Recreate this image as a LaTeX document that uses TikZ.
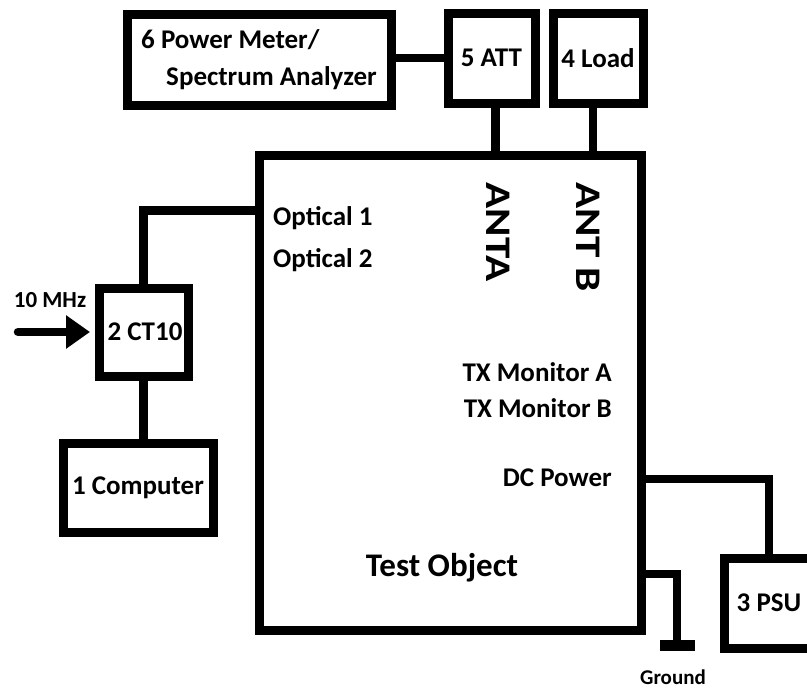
\documentclass[tikz,border=0pt]{standalone}
\usepackage{fontspec}
\setmainfont{Carlito}
\usetikzlibrary{arrows.meta}
\begin{document}
\begin{tikzpicture}[x=1pt,y=-1pt,
  box/.style={draw=black,line width=9pt,rectangle,inner sep=0pt,fill=white,font=\bfseries\fontsize{27}{36}\selectfont},
  lbl/.style={inner sep=0pt,font=\bfseries\fontsize{27}{36}\selectfont},
  wire/.style={draw=black,line width=8.5pt},
]
\useasboundingbox (0,0) rectangle (807,689);
\clip (0,0) rectangle (807,689);
% boxes
\node[box,minimum width=264pt,minimum height=91pt,align=left,font=\bfseries\fontsize{27}{37}\selectfont] (pm) at (259,60) {6 Power Meter/\\\hspace*{25pt}Spectrum Analyzer};
\node[box,minimum width=87pt,minimum height=90pt] (att) at (491.5,58) {5 ATT};
\node[box,minimum width=90pt,minimum height=90pt] (load) at (598,58) {4 Load};
\node[box,minimum width=382pt,minimum height=475pt] (test) at (450,392.5) {};
\node[box,minimum width=89pt,minimum height=88pt] (ct) at (143.5,332) {\hspace*{3pt}2 CT10};
\node[box,minimum width=150pt,minimum height=89pt] (comp) at (138,487.5) {1 Computer};
\node[box,minimum width=90pt,minimum height=90pt] (psu) at (769,603) {3 PSU};
% connectors
\draw[wire] (pm.east |- att.west) -- (att.west);
\draw[wire] ([xshift=4pt]att.south) -- ([xshift=4pt]att.south |- test.north);
\draw[wire] ([xshift=-5pt]load.south) -- ([xshift=-5pt]load.south |- test.north);
\draw[wire] ([yshift=-60pt]test.north west) -| (ct.north);
\draw[wire] (ct.south) -- (ct.south |- comp.north);
\coordinate (src) at (18,332);
\draw[wire,line cap=round,-{Triangle[length=24pt,width=32pt]}] (src) -- ([xshift=-4.5pt]ct.west);
\draw[wire] ([yshift=-86.5pt]test.east) -| (psu.north);
\coordinate (gnd) at (677,645);
\draw[wire] ([yshift=-181.5pt]test.east) -| (gnd);
\draw[draw=black,line width=11pt] ([xshift=-17pt]gnd) -- ([xshift=18pt]gnd);
% labels
\node[lbl,font=\bfseries\fontsize{23}{28}\selectfont] (mhz) at (50,300) {10 MHz};
\node[lbl,font=\bfseries\fontsize{21}{26}\selectfont] (gl) at (673,677) {Ground};
\node[lbl,anchor=west] (o1) at (273,218) {Optical 1};
\node[lbl,anchor=west] (o2) at (273,260) {Optical 2};
\node[lbl,rotate=-90] (anta) at (498,232) {\fontsize{36}{40}\selectfont\scalebox{1.2}[1]{ANTA}};
\node[lbl,rotate=-90] (antb) at (588,237) {\fontsize{36}{40}\selectfont\scalebox{1.2}[1]{ANT B}};
\node[lbl,anchor=east] (txa) at (612,372) {TX Monitor A};
\node[lbl,anchor=east] (txb) at (612,408) {TX Monitor B};
\node[lbl,anchor=east] (dc) at (612,478) {DC Power};
\node[lbl,font=\bfseries\fontsize{33}{40}\selectfont] (to) at (442,568) {Test Object};
\end{tikzpicture}
\end{document}
